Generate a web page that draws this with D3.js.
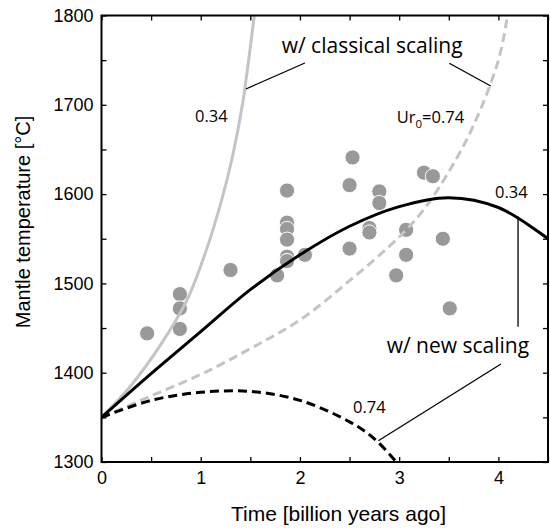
<!DOCTYPE html>
<html><head><meta charset="utf-8">
<script src="https://cdn.jsdelivr.net/npm/d3@7"></script>
<style>body{margin:0;background:#fff}</style>
</head><body><svg id="c" width="550" height="528"></svg>
<script>
// ---- data ----
const timeClassical034 = [0, 0.3, 0.6, 0.86, 1.04, 1.21, 1.32, 1.42, 1.54, 1.6];
const tempClassical034 = [1350, 1386, 1432, 1481, 1532, 1593, 1642, 1700, 1800, 1855];
const timeClassical074 = [0, 0.5, 1.0, 1.5, 2.0, 2.5, 3.0, 3.25, 3.5, 3.75, 4.0, 4.1, 4.15];
const tempClassical074 = [1350, 1374, 1398, 1427, 1459, 1503, 1552, 1583, 1625, 1677, 1750, 1805, 1840];
const timeNew034 = [0, 0.5, 1.0, 1.5, 2.0, 2.5, 3.0, 3.5, 4.0, 4.5];
const tempNew034 = [1350, 1399, 1446, 1493, 1532, 1564, 1586, 1596, 1585, 1550];
const timeNew074 = [0, 0.5, 1.0, 1.5, 2.0, 2.5, 2.75, 3.0, 3.05];
const tempNew074 = [1350, 1369, 1378, 1379, 1369, 1345, 1326, 1296, 1288];
const obsTime = [0.46, 0.79, 0.79, 0.79, 1.30, 1.77, 1.87, 1.87, 1.87, 1.87, 1.87, 1.87, 2.05, 2.53, 2.50, 2.50, 2.70, 2.70, 2.80, 2.80, 2.97, 3.07, 3.07, 3.25, 3.34, 3.44, 3.51];
const obsTemp = [1444, 1488, 1472, 1449, 1515, 1509, 1604, 1568, 1561, 1549, 1530, 1525, 1532, 1641, 1610, 1539, 1562, 1557, 1603, 1590, 1509, 1560, 1532, 1624, 1620, 1550, 1472];
const xTickValues = [0, 0.5, 1, 1.5, 2, 2.5, 3, 3.5, 4, 4.5];
const xTickLabels = ["0", "", "1", "", "2", "", "3", "", "4", ""];
const yTickValues = [1300, 1350, 1400, 1450, 1500, 1550, 1600, 1650, 1700, 1750, 1800];
const yTickLabels = ["1300", "", "1400", "", "1500", "", "1600", "", "1700", "", "1800"];
const xTitle = "Time [billion years ago]";
const yTitle = "Mantle temperature [°C]";
// annotations: [text, time, temp, size]
const annoTexts = [
  ["w/ classical scaling", 1.816, 1757.7, 21],
  ["0.34", 0.942, 1680.4, 16.5],
  ["0.34", 3.966, 1595.3, 16.5],
  ["w/ new scaling", 2.874, 1421.7, 21],
  ["0.74", 2.535, 1354.5, 16.5]
];
const leaderLines = [
  [[2.05, 1746.8], [1.455, 1717.7]],
  [[3.505, 1746.5], [3.923, 1721]],
  [[4.198, 1575], [4.198, 1451.5]],
  [[4.026, 1409.7], [2.79, 1323.8]]
];

// ---- layout ----
const L = 101.5, R = 548, T = 15.5, B = 462;
const svg = d3.select("#c");
svg.append("rect").attr("width", 550).attr("height", 528).attr("fill", "#fff");
const x = d3.scaleLinear().domain([0, 4.5]).range([L, R]);
const y = d3.scaleLinear().domain([1300, 1800]).range([B, T]);

svg.append("defs").append("clipPath").attr("id", "clip")
  .append("rect").attr("x", L).attr("y", T).attr("width", R - L).attr("height", B - T);

const plot = svg.append("g").attr("clip-path", "url(#clip)");

// points
plot.selectAll("circle").data(obsTime.map((t, i) => [t, obsTemp[i]]))
  .enter().append("circle")
  .attr("cx", d => x(d[0])).attr("cy", d => y(d[1])).attr("r", 7.6)
  .attr("fill", "#999").attr("stroke", "#fff").attr("stroke-width", 1);

const line = d3.line().x(d => x(d[0])).y(d => y(d[1])).curve(d3.curveCatmullRom.alpha(0.5));
function curve(ts, vs, color, dash) {
  plot.append("path").datum(ts.map((t, i) => [t, vs[i]]))
    .attr("d", line).attr("fill", "none").attr("stroke", color)
    .attr("stroke-width", 3).attr("stroke-dasharray", dash || null);
}
curve(timeClassical034, tempClassical034, "#c4c4c4");
curve(timeClassical074, tempClassical074, "#c4c4c4", "9,5");
curve(timeNew074, tempNew074, "#000", "9,5");
curve(timeNew034, tempNew034, "#000");

// leader lines
leaderLines.forEach(l => {
  svg.append("line").attr("x1", x(l[0][0])).attr("y1", y(l[0][1]))
    .attr("x2", x(l[1][0])).attr("y2", y(l[1][1]))
    .attr("stroke", "#000").attr("stroke-width", 1.3);
});

// annotation text
const annoFont = "'Open Sans', sans-serif";
annoTexts.forEach(a => {
  svg.append("text").attr("x", x(a[1])).attr("y", y(a[2]))
    .attr("font-family", annoFont).attr("font-size", a[3]).attr("fill", "#000").text(a[0]);
});
const ur = svg.append("text").attr("x", x(2.975)).attr("y", y(1680))
  .attr("font-family", annoFont).attr("font-size", 16.5).attr("fill", "#000");
ur.append("tspan").text("Ur");
ur.append("tspan").attr("font-size", 11.5).attr("dy", 5).text("0");
ur.append("tspan").attr("dy", -5).text("=0.74");

// axes
const tickFont = "'Liberation Sans', Arial, sans-serif";
const gx = svg.append("g").attr("transform", `translate(0,${B})`)
  .call(d3.axisBottom(x).tickValues(xTickValues).tickFormat((d, i) => xTickLabels[i])
    .tickSizeInner(-5).tickSizeOuter(0).tickPadding(9));
const gy = svg.append("g").attr("transform", `translate(${L},0)`)
  .call(d3.axisLeft(y).tickValues(yTickValues).tickFormat((d, i) => yTickLabels[i])
    .tickSizeInner(-5).tickSizeOuter(0).tickPadding(8));
const gt = svg.append("g").attr("transform", `translate(0,${T})`)
  .call(d3.axisTop(x).tickValues(xTickValues).tickFormat("").tickSizeInner(-5).tickSizeOuter(0));
const gr = svg.append("g").attr("transform", `translate(${R},0)`)
  .call(d3.axisRight(y).tickValues(yTickValues).tickFormat("").tickSizeInner(-5).tickSizeOuter(0));
[gx, gy, gt, gr].forEach(g => {
  g.selectAll(".domain").remove();
  g.selectAll(".tick line").attr("stroke", "#000").attr("stroke-width", 1.3);
  g.selectAll("text").attr("font-family", tickFont).attr("font-size", 18).attr("fill", "#000");
});
svg.append("rect").attr("x", L).attr("y", T).attr("width", R - L).attr("height", B - T)
  .attr("fill", "none").attr("stroke", "#000").attr("stroke-width", 2);

svg.append("text").attr("x", 338.5).attr("y", 521).attr("text-anchor", "middle")
  .attr("font-family", tickFont).attr("font-size", 21).attr("fill", "#000").text(xTitle);
svg.append("text").attr("transform", "translate(30,222) rotate(-90)").attr("text-anchor", "middle")
  .attr("font-family", tickFont).attr("font-size", 20).attr("fill", "#000").text(yTitle);
</script></body></html>
